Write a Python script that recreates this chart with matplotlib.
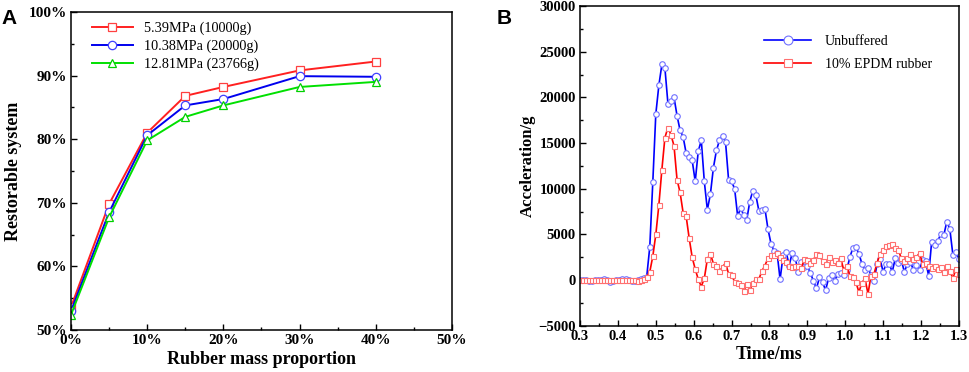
import numpy as np
import matplotlib
matplotlib.use('Agg')
import matplotlib.pyplot as plt
from matplotlib.ticker import MultipleLocator, FuncFormatter

plt.rcParams['font.family'] = ['Liberation Serif', 'DejaVu Serif']
plt.rcParams['mathtext.default'] = 'regular'

# panel A data
rubber_pct = [0, 5, 10, 15, 20, 30, 40]
series_a_labels = ['5.39MPa (10000g)', '10.38MPa (20000g)', '12.81MPa (23766g)']
ratio_539 = [53.6, 69.8, 81.0, 86.8, 88.2, 90.8, 92.2]
ratio_1038 = [53.0, 68.5, 80.6, 85.3, 86.3, 89.9, 89.8]
ratio_1281 = [52.4, 67.7, 79.8, 83.5, 85.3, 88.2, 89.0]

# panel B data, sampled every 0.008 ms from 0.3 ms
t_start = 0.3
t_step = 0.008
unbuffered = [0, 0, 0, -50, -50, 0, 50, 50, 100, 50, -150, -50, 0, 50, 100, 100,
              50, -100, -50, 0, 100, 200, 400,
              3600, 10700, 18200, 21300, 23600, 23200, 19300, 19600, 20000, 18000,
              16400, 15700, 13900, 13500, 13100, 10800, 14100, 15300, 10800, 7700,
              9400, 12300, 14200, 15300, 15800, 15100, 11000, 10800, 10000, 7000,
              7900, 7100, 6600, 8600, 9800, 9300, 7600, 7700, 7800, 5600, 4000,
              3200, 3000, 100, 2700, 3100, 1600, 3000, 2400, 900, 2000, 1400, 1500,
              800, -100, -900, 300, -200, -1100, 200, 600, -100, 700, 800, 600,
              1100, 2500, 3500, 3600, 2900, 1800, 1100, 1300, 600, -100, 1800, 2300,
              900, 1800, 1800, 900, 2400, 1900, 2200, 900, 1800, 2000, 1100, 1650,
              1100, 2200, 2100, 500, 4200, 3800, 4300, 5000, 4900, 6400, 5600, 2800,
              3100, 2300]
epdm = [0, 0, 0, 0, 0, 0, 0, 0, 0, 0, 0, 0, 0, 0, 0, 0, 0, 0, 0, -50, 0, 100,
        360, 900, 2600, 5000, 8200, 12100, 15600, 16700, 15900, 14700, 11000,
        9600, 7400, 7000, 4600, 2500, 1200, 100, -700, 200, 2300, 2900, 1800,
        1500, 1000, 1400, 1900, 700, 600, -200, -300, -500, -1200, -400, -1100,
        -300, 100, 100, 1000, 1600, 2400, 2700, 2800, 3000, 2500, 2200, 2000,
        1500, 1400, 1500, 1600, 1300, 2300, 2200, 1900, 2200, 2900, 2700, 2100,
        1800, 2500, 2000, 2200, 1900, 2400, 1100, 1600, 500, 300, -200, -1300,
        -300, 200, -1500, 500, 700, 1900, 2900, 3300, 3700, 3900, 4000, 3500,
        3300, 2400, 2100, 2400, 2900, 2300, 2500, 3000, 1800, 1900, 1500, 1300,
        1500, 1200, 1400, 900, 1500, 1000, 200, 1200, 700]
time_ms = t_start + t_step * np.arange(len(unbuffered))

fig = plt.figure(figsize=(9.69, 3.72), dpi=100)
ax1 = fig.add_axes([0.0733, 0.113, 0.393, 0.855])
ax2 = fig.add_axes([0.5986, 0.124, 0.391, 0.860])

# panel A
ax1.plot(rubber_pct, ratio_539, color='#ff2020', lw=1.4, marker='s', ms=6,
         mfc='white', mec='#ff4040', mew=0.9, label=series_a_labels[0])
ax1.plot(rubber_pct, ratio_1038, color='#0000ee', lw=1.4, marker='o', ms=6,
         mfc='white', mec='#4040ff', mew=0.9, label=series_a_labels[1])
ax1.plot(rubber_pct, ratio_1281, color='#00e000', lw=1.4, marker='^', ms=6,
         mfc='white', mec='#00d000', mew=0.9, label=series_a_labels[2])
ax1.set_xlim(0, 50)
ax1.set_ylim(50, 100)
ax1.xaxis.set_major_locator(MultipleLocator(10))
ax1.xaxis.set_minor_locator(MultipleLocator(5))
ax1.yaxis.set_major_locator(MultipleLocator(10))
ax1.yaxis.set_minor_locator(MultipleLocator(5))
pct = FuncFormatter(lambda v, p: '%d%%' % v)
ax1.xaxis.set_major_formatter(pct)
ax1.yaxis.set_major_formatter(pct)
ax1.set_xlabel('Rubber mass proportion', fontsize=13, fontweight='bold', labelpad=3)
ax1.set_ylabel('Restorable system', fontsize=13, fontweight='bold', labelpad=5)
ax1.legend(loc='upper left', frameon=False, fontsize=10.3, handlelength=2.8,
           borderaxespad=0.3, labelspacing=0.3, bbox_to_anchor=(0.03, 1.0))

# panel B
ax2.plot(time_ms, unbuffered, color='#0000ff', lw=1.2, marker='o', ms=4,
         mfc='white', mec='#7070ff', mew=0.8, label='Unbuffered')
ax2.plot(time_ms, epdm, color='#ff0000', lw=1.2, marker='s', ms=3.6,
         mfc='white', mec='#ff7070', mew=0.8, label='10% EPDM rubber')
ax2.set_xlim(0.3, 1.3)
ax2.set_ylim(-5000, 30000)
ax2.xaxis.set_major_locator(MultipleLocator(0.1))
ax2.xaxis.set_minor_locator(MultipleLocator(0.05))
ax2.yaxis.set_major_locator(MultipleLocator(5000))
ax2.yaxis.set_minor_locator(MultipleLocator(2500))
ax2.xaxis.set_major_formatter(FuncFormatter(lambda v, p: '%.1f' % v))
ax2.set_xlabel('Time/ms', fontsize=13, fontweight='bold', labelpad=2)
ax2.set_ylabel('Acceleration/g', fontsize=12, fontweight='bold', labelpad=2)
ax2.legend(loc='upper right', frameon=False, fontsize=10, handlelength=3.4,
           borderaxespad=0.3, labelspacing=0.75, bbox_to_anchor=(0.955, 0.94),
           handletextpad=1.0, markerscale=1.6)

for ax in (ax1, ax2):
    for s in ax.spines.values():
        s.set_linewidth(1.1)
    ax.tick_params(which='both', direction='in', top=False, right=False)
    ax.tick_params(which='major', length=4, width=1.0, labelsize=11, pad=3)
    ax.tick_params(which='minor', length=2.5, width=1.0)
    for lab in ax.get_xticklabels() + ax.get_yticklabels():
        lab.set_fontweight('bold')
ax2.tick_params(which='major', labelsize=10.5)
for lab in ax2.get_xticklabels() + ax2.get_yticklabels():
    lab.set_fontweight('bold')

fig.text(0.002, 0.975, 'A', fontsize=15, fontweight='bold', family='Liberation Sans', va='top')
fig.text(0.512, 0.975, 'B', fontsize=15, fontweight='bold', family='Liberation Sans', va='top')

fig.savefig('out.png', dpi=100)
